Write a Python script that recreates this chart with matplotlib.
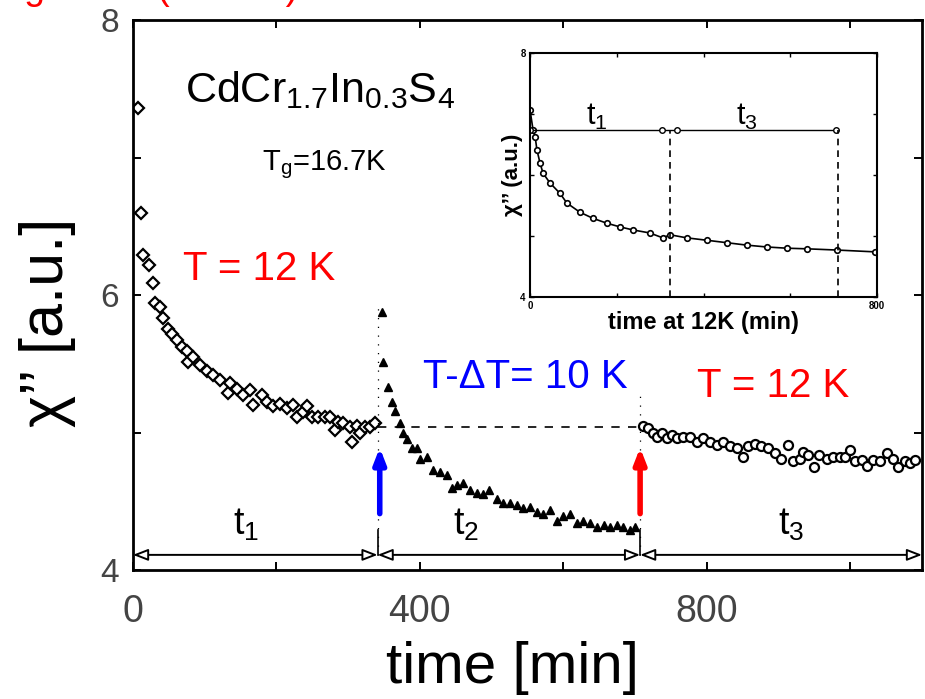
import matplotlib
matplotlib.use("Agg")
import matplotlib.pyplot as plt
import numpy as np

plt.rcParams['font.family'] = ['Liberation Sans', 'DejaVu Sans']

# ---- data (time in min, chi'' in a.u.) ----
# t1 : aging at 12 K (open diamonds)
t1_time = [7, 11, 14, 22, 28, 31, 38, 42, 49, 54, 61, 68, 75, 77, 84, 93, 103, 112,
           121, 132, 135, 145, 153, 163, 167, 180, 187, 195, 205, 215, 223, 228, 237,
           242, 249, 258, 268, 275, 282, 286, 293, 302, 306, 312, 316, 323, 330, 337]
t1_chi = [7.36, 6.60, 6.29, 6.22, 6.09, 5.94, 5.91, 5.83, 5.75, 5.72, 5.67, 5.62, 5.59,
          5.51, 5.55, 5.49, 5.45, 5.42, 5.38, 5.29, 5.36, 5.32, 5.27, 5.31, 5.20, 5.27,
          5.22, 5.19, 5.21, 5.18, 5.20, 5.11, 5.15, 5.19, 5.11, 5.11, 5.11, 5.11, 5.02,
          5.08, 5.07, 5.04, 4.93, 5.05, 5.00, 5.04, 5.04, 5.07]

# t2 : at T - dT = 10 K (filled triangles)
t2_time = [347, 349, 355, 361, 365, 372, 376, 382, 389, 396, 400, 410, 418, 428, 438,
           445, 452, 460, 470, 479, 488, 497, 507, 516, 525, 535, 544, 553, 563, 572,
           581, 591, 600, 609, 619, 628, 637, 647, 656, 665, 675, 683, 693, 700]
t2_chi = [5.88, 5.51, 5.33, 5.22, 5.16, 5.07, 5.00, 4.95, 4.89, 4.89, 4.81, 4.82, 4.73,
          4.71, 4.69, 4.60, 4.62, 4.63, 4.58, 4.56, 4.55, 4.58, 4.52, 4.49, 4.49, 4.47,
          4.45, 4.46, 4.42, 4.41, 4.44, 4.36, 4.39, 4.41, 4.34, 4.36, 4.34, 4.31, 4.33,
          4.31, 4.33, 4.31, 4.29, 4.31]

# t3 : back at 12 K (open circles)
t3_time = [711, 718, 725, 730, 737, 744, 751, 758, 767, 776, 786, 795, 804, 814, 823,
           832, 842, 850, 857, 867, 876, 885, 895, 904, 913, 920, 930, 934, 941, 950,
           957, 967, 976, 985, 992, 999, 1006, 1016, 1024, 1031, 1041, 1051, 1059,
           1066, 1076, 1083, 1090]
t3_chi = [5.05, 5.03, 5.00, 4.97, 5.00, 4.96, 4.98, 4.96, 4.97, 4.97, 4.93, 4.96, 4.93,
          4.91, 4.93, 4.90, 4.89, 4.82, 4.90, 4.92, 4.90, 4.89, 4.85, 4.81, 4.91, 4.79,
          4.81, 4.86, 4.84, 4.75, 4.84, 4.81, 4.82, 4.82, 4.82, 4.87, 4.79, 4.80, 4.76,
          4.80, 4.79, 4.85, 4.81, 4.75, 4.79, 4.78, 4.80]

# inset: t1 and t3 joined, time spent at 12 K
inset_time = [0, 7, 12, 16, 23, 30, 46, 69, 85, 115, 145, 177, 207, 237, 276, 306, 323,
              361, 408, 454, 500, 546, 592, 638, 707, 795]
inset_chi = [7.07, 6.74, 6.62, 6.41, 6.20, 6.03, 5.87, 5.70, 5.54, 5.39, 5.29, 5.21,
             5.15, 5.10, 5.05, 4.97, 5.02, 4.97, 4.93, 4.89, 4.85, 4.82, 4.80, 4.79,
             4.77, 4.74]

t_switch_down = 341   # 12 K -> 10 K
t_switch_up = 707     # 10 K -> 12 K
t_end = 1100
chi_level = 5.04      # dashed reference level
arrow_level = 4.11    # t1/t2/t3 interval arrows

fig = plt.figure(figsize=(9.25, 6.99), dpi=100)
ax = fig.add_axes([133 / 925, 1 - 570 / 699, (922 - 133) / 925, (570 - 20) / 699])

ax.plot(t1_time, t1_chi, ls='none', marker='D', ms=6, mfc='white', mec='black', mew=1.6)
ax.plot(t2_time, t2_chi, ls='none', marker='^', ms=6, mfc='black', mec='black')
ax.plot(t3_time, t3_chi, ls='none', marker='o', ms=6.5, mfc='white', mec='black', mew=1.6)

# reference level and switching lines
ax.plot([t_switch_down, t_switch_up], [chi_level, chi_level], color='black', lw=1.2,
        ls=(0, (5, 5)))
ax.plot([t_switch_down, t_switch_down], [arrow_level, 5.95], color='black', lw=0.9,
        ls=(0, (1, 6)))
ax.plot([t_switch_up, t_switch_up], [arrow_level, 5.32], color='black', lw=0.9,
        ls=(0, (1, 6)))
for ts in [t_switch_down, t_switch_up]:
    ax.plot([ts, ts], [arrow_level, 4.29], color='black', lw=1.2)

# interval arrows along the bottom
for a, b in [(0, t_switch_down), (t_switch_down, t_switch_up), (t_switch_up, t_end)]:
    ax.annotate('', xy=(b, arrow_level), xytext=(a, arrow_level),
                arrowprops=dict(arrowstyle='<|-|>,head_length=0.9,head_width=0.35',
                                fc='white', ec='black', lw=1.4, shrinkA=0, shrinkB=0))

# temperature step arrows
for ts, col in [(t_switch_down + 3, 'blue'), (t_switch_up, 'red')]:
    ax.annotate('', xy=(ts, 4.89), xytext=(ts, 4.41),
                arrowprops=dict(arrowstyle='-|>,head_length=0.9,head_width=0.35',
                                fc=col, ec=col, lw=4, shrinkA=0, shrinkB=0))

ax.text(157, 4.33, '$\\mathregular{t_1}$', fontsize=27, ha='center', va='center')
ax.text(465, 4.33, '$\\mathregular{t_2}$', fontsize=27, ha='center', va='center')
ax.text(918, 4.33, '$\\mathregular{t_3}$', fontsize=27, ha='center', va='center')

ax.set_xlim(0, t_end)
ax.set_ylim(4, 8)
ax.set_xticks([0, 400, 800])
ax.set_xticks([200, 600, 1000], minor=True)
ax.set_yticks([4, 6, 8])
ax.set_yticks([5, 7], minor=True)
ax.tick_params(which='both', direction='in', length=6, width=1.4, top=True, right=True)
ax.tick_params(axis='x', labelsize=27, pad=17, labelcolor='#444444')
ax.tick_params(axis='y', labelsize=24, pad=10, labelcolor='#444444')
for s in ax.spines.values():
    s.set_linewidth(2)

fig.text(47 / 925, 1 - 322 / 699, 'χ’’ [a.u.]', fontsize=44, rotation=90,
         ha='center', va='center')
fig.text(512 / 925, 1 - 668 / 699, 'time [min]', fontsize=42, ha='center', va='center')

fig.text(185 / 925, 1 - 102 / 699, '$\\mathregular{CdCr_{1.7}In_{0.3}S_4}$',
         fontsize=31, va='baseline')
fig.text(262 / 925, 1 - 170 / 699, '$\\mathregular{T_g}$=16.7K', fontsize=21,
         va='baseline')
fig.text(183 / 925, 1 - 280 / 699, 'T = 12 K', fontsize=29, color='red', va='baseline')
fig.text(423 / 925, 1 - 388 / 699, 'T-ΔT= 10 K', fontsize=29, color='blue',
         va='baseline')
fig.text(697 / 925, 1 - 397 / 699, 'T = 12 K', fontsize=29, color='red', va='baseline')
fig.text(-82 / 925, 1 + 1 / 699, 'Cooling effect (ΔT=2K)', fontsize=27, color='red',
         va='baseline')

# ---- inset ----
ins = fig.add_axes([530 / 925, 1 - 297 / 699, 347 / 925, 244 / 699])
ins.plot(inset_time, inset_chi, color='black', lw=1.2, marker='o', ms=4,
         mfc='white', mec='black', mew=1.2)
ins.plot([0, 710], [6.74, 6.74], color='black', lw=1)
ins.plot([0, 305, 340, 705], [6.74] * 4, ls='none', marker='o', ms=4, mfc='white',
         mec='black', mew=1)
ins.plot([323, 323], [4, 6.74], color='black', lw=1.2, ls=(0, (4, 3)))
ins.plot([710, 710], [4, 6.74], color='black', lw=1.2, ls=(0, (4, 3)))
ins.text(154, 6.95, '$\\mathregular{t_1}$', fontsize=22, ha='center', va='center')
ins.text(500, 6.95, '$\\mathregular{t_3}$', fontsize=22, ha='center', va='center')
ins.set_xlim(0, 800)
ins.set_ylim(4, 8)
ins.set_xticks([0, 200, 400, 600, 800])
ins.set_xticklabels(['0', '', '', '', '800'])
ins.set_yticks([4, 5, 6, 7, 8])
ins.set_yticklabels(['4', '', '', '', '8'])
ins.tick_params(direction='in', length=3, width=1, top=True, right=True, labelsize=7,
                pad=3)
for lab in ins.get_xticklabels() + ins.get_yticklabels():
    lab.set_fontweight('bold')
for s in ins.spines.values():
    s.set_linewidth(1.5)
ins.set_xlabel('time at 12K (min)', fontsize=17, fontweight='bold', labelpad=0)
ins.set_ylabel('χ’’ (a.u.)', fontsize=16, fontweight='bold', labelpad=-2)

fig.savefig('out.png', dpi=100)
